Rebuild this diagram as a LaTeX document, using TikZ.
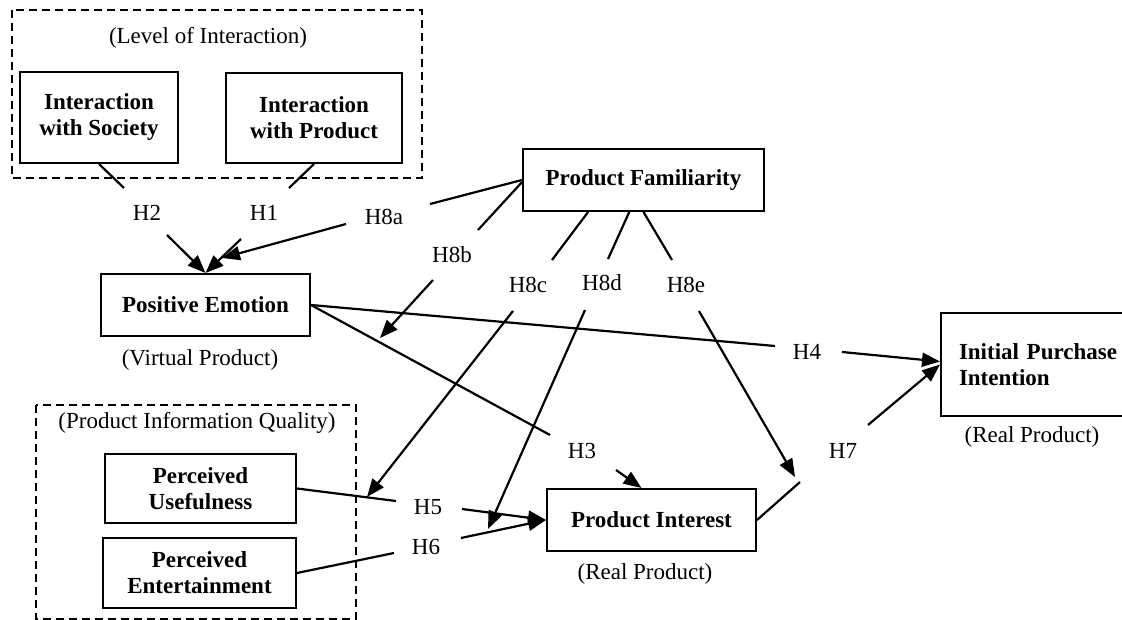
\documentclass[tikz,border=0pt]{standalone}
\usepackage{fontspec}
\setmainfont{Liberation Serif}
\usetikzlibrary{arrows.meta}
\begin{document}
\begin{tikzpicture}[x=1pt,y=-1pt,
  every node/.style={font=\fontsize{23}{26}\selectfont},
  box/.style={draw, line width=2pt, inner sep=0pt, align=center, font=\fontsize{23}{26}\selectfont\bfseries},
  grp/.style={draw, line width=1.5pt, dash pattern=on 8pt off 5pt},
  seg/.style={line width=2.2pt},
  arr/.style={line width=2.2pt, -{Triangle[length=18pt,width=14pt]}},
  hlab/.style={inner sep=0pt}]
\useasboundingbox (0,0) rectangle (1122,620);
\fill[white] (0,0) rectangle (1122,620);
\clip (0,0) rectangle (1122,620);

% group boxes
\draw[grp] (12,10) rectangle (422,178);
\draw[grp] (36,405) rectangle (356,619);
\node (LoI) at (208,38) {(Level of Interaction)};
\node (PIQ) at (197,423) {(Product Information Quality)};

% main boxes
\node[box, minimum width=158pt, minimum height=91pt] (IS) at (99,117.5) {Interaction\\with Society};
\node[box, minimum width=176pt, minimum height=90pt] (IP) at (314,118) {Interaction\\with Product};
\node[box, minimum width=241pt, minimum height=62pt] (PF) at (643.5,180) {Product Familiarity};
\node[box, minimum width=209pt, minimum height=62pt] (PE) at (205.5,305) {Positive Emotion};
\node[box, minimum width=191pt, minimum height=69pt] (PU) at (200.5,488.5) {Perceived\\Usefulness};
\node[box, minimum width=193pt, minimum height=70pt] (PEnt) at (199.5,573) {Perceived\\Entertainment};
\node[box, minimum width=209pt, minimum height=62pt] (PI) at (651.5,520) {Product Interest};
\node[box, anchor=west, minimum height=103pt, text width=170pt, align=left, inner xsep=18pt] (IPI) at (940,364.5) {Initial Purchase\\Intention};

% sub labels
\node (VP) at (200,360) {(Virtual Product)};
\node (RP1) at (645,574) {(Real Product)};
\node (RP2) at (1032,437) {(Real Product)};

% hypothesis labels
\node[hlab] (H2) at (147,213) {H2};
\node[hlab] (H1) at (264,213) {H1};
\node[hlab] (H8a) at (384,217) {H8a};
\node[hlab] (H8b) at (452,255) {H8b};
\node[hlab] (H8c) at (528,285) {H8c};
\node[hlab] (H8d) at (602,283) {H8d};
\node[hlab] (H8e) at (686,285) {H8e};
\node[hlab] (H4) at (807,352) {H4};
\node[hlab] (H3) at (582,451) {H3};
\node[hlab] (H7) at (843,451) {H7};
\node[hlab] (H5) at (428,507) {H5};
\node[hlab] (H6) at (426,547) {H6};

% break points
\coordinate (h2a) at (124,188);  \coordinate (h2b) at (167,235);
\coordinate (h1a) at (289,188);  \coordinate (h1b) at (241,239);
\coordinate (h8aA) at (430,204); \coordinate (h8aB) at (346,224); \coordinate (h8aT) at (222,258);
\coordinate (h8bA) at (478,230); \coordinate (h8bB) at (433,280); \coordinate (h8bT) at (380,338);
\coordinate (h8cA) at (552,260); \coordinate (h8cB) at (513,311); \coordinate (h8cT) at (367,497);
\coordinate (h8dA) at (608,259); \coordinate (h8dB) at (585,310); \coordinate (h8dT) at (488,529);
\coordinate (h8eA) at (672,260); \coordinate (h8eB) at (699,311); \coordinate (h8eT) at (795,477);
\coordinate (h4A) at (775,346);  \coordinate (h4B) at (842,352);
\coordinate (h3A) at (550,435);  \coordinate (h3B) at (616,470);
\coordinate (h5A) at (396,501);  \coordinate (h5B) at (462,509);
\coordinate (h6A) at (394,553);  \coordinate (h6B) at (461,538);
\coordinate (h7A) at (800,482);  \coordinate (h7B) at (868,425);

% connectors
\draw[seg] (IS.south) -- (h2a);  \draw[arr] (h2b) -- (PE.north);
\draw[seg] (IP.south) -- (h1a);  \draw[arr] (h1b) -- (PE.north);
\draw[seg] (PF.west) -- (h8aA);  \draw[arr] (h8aB) -- (h8aT);
\draw[seg] (PF.181) -- (h8bA);   \draw[arr] (h8bB) -- (h8bT);
\draw[seg] (PF.210) -- (h8cA);   \draw[arr] (h8cB) -- (h8cT);
\draw[seg] (PF.246) -- (h8dA);   \draw[arr] (h8dB) -- (h8dT);
\draw[seg] (PF.south) -- (h8eA); \draw[arr] (h8eB) -- (h8eT);
\draw[seg] (PE.east) -- (h4A);   \draw[arr] (h4B) -- ([yshift=3pt]IPI.west);
\draw[seg] (PE.east) -- (h3A);   \draw[arr] (h3B) -- ([xshift=-10pt]PI.north);
\draw[seg] (PU.east) -- (h5A);   \draw[arr] (h5B) -- (PI.west);
\draw[seg] (PEnt.east) -- (h6A); \draw[arr] (h6B) -- (PI.west);
\draw[seg] (PI.east) -- (h7A);   \draw[arr] (h7B) -- (IPI.west);
\end{tikzpicture}
\end{document}
